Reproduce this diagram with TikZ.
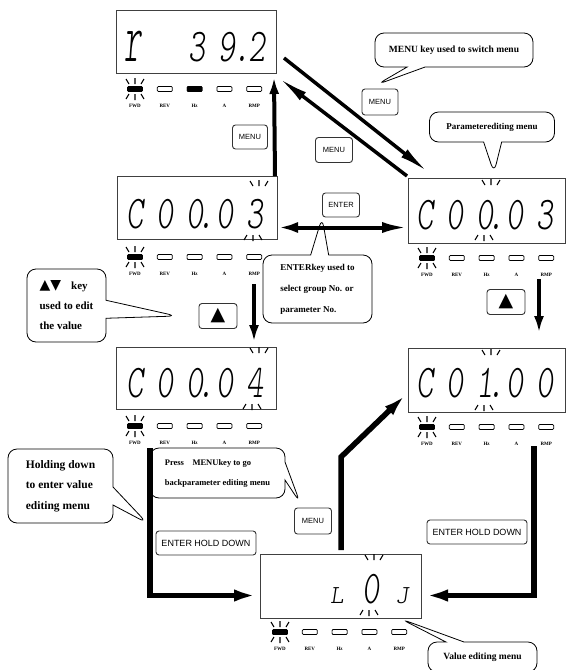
\documentclass[tikz,border=0pt]{standalone}
\usepackage{fontspec}
\setmainfont{Liberation Serif}
\setsansfont{Liberation Sans}
\newfontfamily\segfont{lmmonolt10-regular.otf}[FakeSlant=0.15]
\newfontfamily\symfont{DejaVu Sans}
\usetikzlibrary{arrows.meta}
\usetikzlibrary{shapes.callouts}
\usetikzlibrary{positioning}

% digits of one display
\newcommand\segrow[4]{%
  \foreach \ch [count=\i from 0] in {#4}
    \node[seg] (#1s\i) at (#2+30*\i,#3) {\scalebox{0.7}[1]{\ch}};
}
% lamps under a display
\newcommand\ledrow[4]{%
  \foreach \lab [count=\i from 0] in {FWD,REV,Hz,A,RMP} {
    \node[led] (#1l\i) at (#2+29.8*\i,#3) {};
    \node[ledlab] (#1t\i) at (#2+29.8*\i,#3+17) {\lab};
  }
  \node[led, fill=black] (#1fwd) at (#2,#3) {};
  \node[led, fill=#4] (#1hz) at (#2+59.6,#3) {};
  \pic at (#2,#3-4) {blink};
  \pic[yscale=-1] at (#2,#3+4) {blink};
}

\begin{document}
\begin{tikzpicture}[x=1pt,y=-1pt]
  \tikzset{
    disp/.style={draw=black!75, line width=1pt, inner sep=0pt, anchor=north west},
    seg/.style={font=\segfont\fontsize{47}{47}\selectfont, anchor=base, inner sep=0pt},
    led/.style={draw, line width=0.7pt, rounded corners=1pt,
      minimum width=15pt, minimum height=5pt, inner sep=0pt},
    ledlab/.style={font=\bfseries\fontsize{5}{5}\selectfont, inner sep=0pt},
    blink/.pic={\draw[line width=1.1pt] (-6,-1) -- (-9,-6) (0,-1) -- (0,-7) (6,-1) -- (9,-6);},
    keybox/.style={draw=black!80, line width=0.9pt, rounded corners=3pt, fill=white,
      inner sep=0pt, font=\sffamily\fontsize{7.5}{8}\selectfont},
    upkey/.style={keybox, minimum width=38pt, minimum height=25pt,
      font=\symfont\fontsize{19}{19}\selectfont},
    holdkey/.style={keybox, minimum width=100pt, minimum height=24pt,
      font=\sffamily\fontsize{9}{10}\selectfont},
    bubble/.style={rectangle callout, draw, line width=0.8pt, rounded corners=9pt,
      fill=white, inner sep=0pt, align=left, callout pointer width=18pt},
    arr/.style={line width=4pt, -{Latex[length=17pt,width=10pt]}},
    diag/.style={line width=3.5pt, -{Latex[length=30pt,width=10pt]}},
    fat/.style={line width=5.5pt, -{Latex[length=26pt,width=12pt]}},
  }
  \useasboundingbox (0,0) rectangle (567,670);

  % displays
  \node[disp, minimum width=160pt, minimum height=63pt] (d1) at (116,10) {};
  \node[disp, minimum width=160pt, minimum height=63pt] (d2) at (117,176) {};
  \node[disp, minimum width=157pt, minimum height=65pt] (d3) at (408,178) {};
  \node[disp, minimum width=160pt, minimum height=62pt] (d4) at (116,347) {};
  \node[disp, minimum width=157pt, minimum height=64pt] (d5) at (408,348) {};
  \node[disp, minimum width=161pt, minimum height=64pt] (d6) at (260,554) {};

  \node[seg] (d1r) at (133,61) {\scalebox{0.7}[1.5]{r}};
  \segrow{d1}{197}{61}{3,9,2}
  \node[seg] (d1dot) at (242,61) {\makebox[0pt]{\scalebox{0.7}[1]{.}}};
  \segrow{d2}{135}{228}{C,0,0,0,3}
  \node[seg] (d2dot) at (206,228) {\makebox[0pt]{\scalebox{0.7}[1]{.}}};
  \segrow{d3}{425}{229}{C,0,0,0,3}
  \node[seg] (d3dot) at (496,229) {\makebox[0pt]{\scalebox{0.7}[1]{.}}};
  \segrow{d4}{135}{397}{C,0,0,0,4}
  \node[seg] (d4dot) at (206,397) {\makebox[0pt]{\scalebox{0.7}[1]{.}}};
  \segrow{d5}{425}{397}{C,0,1,0,0}
  \node[seg] (d5dot) at (496,397) {\makebox[0pt]{\scalebox{0.7}[1]{.}}};
  \node[seg, font=\segfont\fontsize{26}{26}\selectfont] (d6a) at (337,603) {L};
  \node[seg] (d6b) at (371,603) {\scalebox{0.7}[1]{0}};
  \node[seg, font=\segfont\fontsize{26}{26}\selectfont] (d6c) at (402,603) {J};

  % blinking digits
  \pic at (259,187) {blink};
  \pic[yscale=-1] at (253,234) {blink};
  \pic at (491,186) {blink};
  \pic[yscale=-1] at (484,234) {blink};
  \pic at (259,354) {blink};
  \pic[yscale=-1] at (252,403) {blink};
  \pic at (491,356) {blink};
  \pic[yscale=-1] at (484,404) {blink};
  \pic at (374,561) {blink};
  \pic[yscale=-1] at (369,609) {blink};

  \ledrow{d1}{135}{89}{black}
  \ledrow{d2}{135}{257}{white}
  \ledrow{d3}{427}{258}{white}
  \ledrow{d4}{135}{426}{white}
  \ledrow{d5}{427}{427}{white}
  \ledrow{d6}{280}{632}{white}

  % keys
  \node[keybox, minimum width=35pt, minimum height=24pt] (menua) at (250,137) {MENU};
  \node[keybox, minimum width=36pt, minimum height=26pt] (menub) at (380,102) {MENU};
  \node[keybox, minimum width=37pt, minimum height=25pt] (menuc) at (334,150) {MENU};
  \node[keybox, minimum width=37pt, minimum height=24pt] (enter) at (341,205) {ENTER};
  \node[keybox, minimum width=37pt, minimum height=26pt] (menud) at (313,521) {MENU};
  \node[upkey] (upl) at (218,316) {▲};
  \node[upkey] (upr) at (506,302) {▲};
  \node[holdkey] (holdl) at (206,543) {ENTER HOLD DOWN};
  \node[holdkey] (holdr) at (477,532) {ENTER HOLD DOWN};

  % notes
  \coordinate (hold) at (147,523);
  \node[bubble, minimum width=158pt, minimum height=34pt,
    font=\bfseries\fontsize{9.5}{11}\selectfont,
    callout absolute pointer={([shift={(-3,-4)}]menub.north)}] (c1) at (454,50)
    {MENU key used to switch menu};
  \node[bubble, minimum width=125pt, minimum height=30pt,
    font=\bfseries\fontsize{9}{11}\selectfont,
    callout absolute pointer={([shift={(7,-5)}]d3.north)}] (c2) at (492,127)
    {Parameterediting menu};
  \node[bubble, minimum width=109pt, minimum height=68pt,
    font=\bfseries\fontsize{9}{21}\selectfont,
    callout absolute pointer={(enter.south west)}] (c3) at (317.5,289)
    {ENTERkey used to\\select group No. or\\parameter No.};
  \node[bubble, minimum width=79pt, minimum height=73pt,
    font=\bfseries\fontsize{11}{20}\selectfont,
    callout absolute pointer={([xshift=-22pt]upl.west)}] (c4) at (66.5,305.5)
    {{\symfont\fontsize{14}{14}\selectfont ▲▼}\hspace{10pt}key\\used to edit\\the value};
  \node[bubble, minimum width=105pt, minimum height=74pt,
    font=\bfseries\fontsize{11.5}{20.5}\selectfont,
    callout absolute pointer={(hold)}] (c5) at (60.5,486)
    {Holding down\\to enter value\\editing menu};
  \node[bubble, minimum width=135pt, minimum height=50pt,
    font=\bfseries\fontsize{8.5}{20}\selectfont,
    callout absolute pointer={([shift={(-13,-5)}]menud.north)}] (c6) at (217.5,473)
    {Press\hspace{1em}MENUkey to go\\backparameter editing menu};
  \node[bubble, minimum width=109pt, minimum height=30pt,
    font=\bfseries\fontsize{9.5}{11}\selectfont,
    callout absolute pointer={([xshift=-21pt]d6.south east)}] (c7) at (482.5,657)
    {Value editing menu};

  % moves between menus
  \draw[arr] ([xshift=-3pt]d2.north east) -- ([shift={(-3,3)}]d1.south east);
  \draw[diag] ([shift={(7,16)}]d1.east) -- ([shift={(20,-6)}]d3.north west);
  \draw[diag] ([shift={(-1,-2)}]d3.north west) -- ([shift={(2,4)}]d1.south east);
  \draw[line width=4pt, {Latex[length=20pt,width=11pt]}-{Latex[length=26pt,width=11pt]}]
    ([yshift=-19.5pt]d2.east) -- ([yshift=-16.5pt]d3.west);
  \draw[arr] ([shift={(-27,35)}]d3.south east) -- ([shift={(-27,-15)}]d5.north east);
  \draw[arr] ([shift={(-24,44)}]d2.south east) -- ([shift={(-23,-5)}]d4.north east);
  \draw[fat] ([shift={(34,38)}]d4.south west) |- ([yshift=-9pt]d6.west);
  \draw[fat] ([shift={(-32,33)}]d5.south east) |- ([yshift=-9pt]d6.east);
  \draw[fat, -{Latex[length=22pt,width=12pt]}]
    ([yshift=4pt]d6.north) -- ++(0,-93) -- ([shift={(-3,15)}]d5.west);
\end{tikzpicture}
\end{document}
